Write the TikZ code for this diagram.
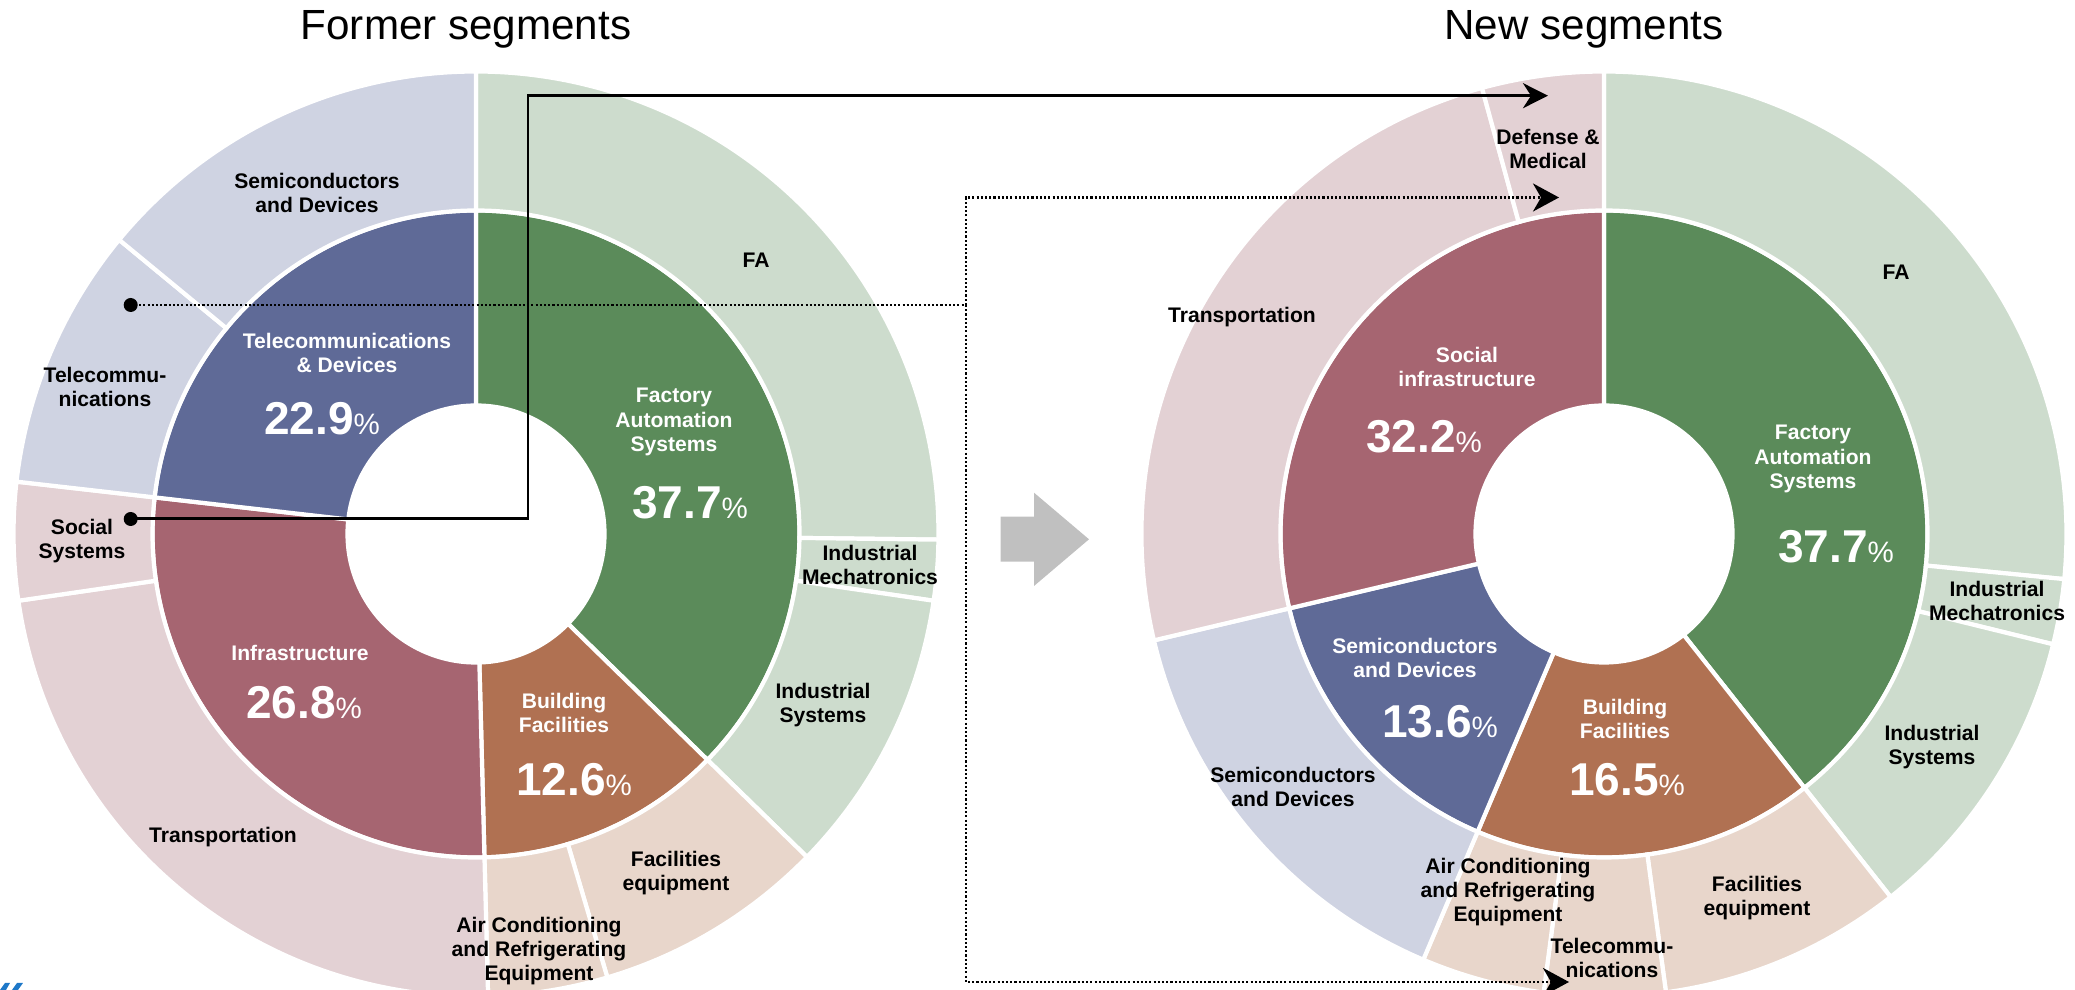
\documentclass[tikz,border=0pt]{standalone}
\usepackage{fontspec}
\setmainfont{Liberation Sans}
\usetikzlibrary{arrows.meta}

\definecolor{fasgreen}{HTML}{5B8B5A}
\definecolor{falight}{HTML}{CDDCCD}
\definecolor{telblue}{HTML}{5F6A97}
\definecolor{tellight}{HTML}{CFD3E2}
\definecolor{infred}{HTML}{A66571}
\definecolor{inflight}{HTML}{E3D1D4}
\definecolor{bldbrown}{HTML}{B07152}
\definecolor{bldlight}{HTML}{E8D6CB}
\definecolor{arrowgray}{HTML}{C0C0C0}
\definecolor{logoblue}{HTML}{1E78C8}

\tikzset{
	seg/.style={draw=white, line width=1.2pt},
	lbl/.style={align=center, inner sep=0pt, font=\bfseries\fontsize{6}{6.9}\selectfont},
	wlbl/.style={lbl, text=white},
	pct/.style={inner sep=0pt, text=white},
	ttl/.style={anchor=base, inner sep=0pt, font=\fontsize{12}{14}\selectfont},
	solidline/.style={line width=0.85pt, -{Stealth[length=0.25cm, width=0.25cm, inset=0.08cm]}},
	dotline/.style={line width=0.7pt, dash pattern=on 0.6pt off 0.6pt}
}
\newcommand{\segpct}[1]{{\bfseries\fontsize{13.1}{15}\selectfont #1}{\fontsize{8.4}{10}\selectfont\%}}

\begin{document}
\begin{tikzpicture}
	\useasboundingbox (0,0) rectangle (20.75,9.9);

	\begin{scope}[shift={(4.76,4.56)}]
	\foreach \a/\b/\c in {90/-44.3/fasgreen, -44.3/-88.5/bldbrown, -88.5/-186.5/infred, 173.5/90/telblue}
	\draw[seg, fill=\c] (\a:1.285) arc[start angle=\a, end angle=\b, radius=1.285] -- (\b:3.235) arc[start angle=\b, end angle=\a, radius=3.235] -- cycle;
	\foreach \a/\b/\c in {90/-0.7/falight, -0.7/-8.3/falight, -8.3/-44.3/falight, -44.3/-73.5/bldlight, -73.5/-88.5/bldlight, -88.5/-171.7/inflight, -171.7/-186.5/inflight, 173.5/140.5/tellight, 140.5/90/tellight}
	\draw[seg, fill=\c] (\a:3.235) arc[start angle=\a, end angle=\b, radius=3.235] -- (\b:4.625) arc[start angle=\b, end angle=\a, radius=4.625] -- cycle;
	\end{scope}

	\begin{scope}[shift={(16.04,4.56)}]
	\foreach \a/\b/\c in {90/-51.7/fasgreen, -51.7/-113/bldbrown, -113/-166.7/telblue, 193.3/90/infred}
	\draw[seg, fill=\c] (\a:1.285) arc[start angle=\a, end angle=\b, radius=1.285] -- (\b:3.235) arc[start angle=\b, end angle=\a, radius=3.235] -- cycle;
	\foreach \a/\b/\c in {90/-5.6/falight, -5.6/-13.8/falight, -13.8/-51.7/falight, -51.7/-82.3/bldlight, -82.3/-97.5/bldlight, -97.5/-113/bldlight, -113/-166.7/tellight, 193.3/105.3/inflight, 105.3/90/inflight}
	\draw[seg, fill=\c] (\a:3.235) arc[start angle=\a, end angle=\b, radius=3.235] -- (\b:4.625) arc[start angle=\b, end angle=\a, radius=4.625] -- cycle;
	\end{scope}

	\node[ttl] (ftitle) at (4.66,9.50) {Former segments};
	\node[ttl] (ntitle) at (15.84,9.50) {New segments};

	\node[lbl] (lsemi) at (3.17,7.97) {Semiconductors\\and Devices};
	\node[lbl] (lfa) at (7.56,7.30) {FA};
	\node[lbl] (ltele) at (1.05,6.03) {Telecommu-\\nications};
	\node[wlbl] (ltd) at (3.47,6.37) {Telecommunications\\\& Devices};
	\node[pct] (ltdp) at (3.22,5.71) {\segpct{22.9}};
	\node[wlbl] (lfas) at (6.74,5.68) {Factory\\Automation\\Systems};
	\node[pct] (lfasp) at (6.90,4.87) {\segpct{37.7}};
	\node[lbl] (lsoc) at (0.82,4.49) {Social\\Systems};
	\node[lbl] (lim) at (8.70,4.25) {Industrial\\Mechatronics};
	\node[wlbl] (linf) at (3.00,3.37) {Infrastructure};
	\node[pct] (linfp) at (3.04,2.87) {\segpct{26.8}};
	\node[wlbl] (lbld) at (5.64,2.77) {Building\\Facilities};
	\node[pct] (lbldp) at (5.74,2.10) {\segpct{12.6}};
	\node[lbl] (lis) at (8.23,2.85) {Industrial\\Systems};
	\node[lbl] (lfe) at (6.76,1.17) {Facilities\\equipment};
	\node[lbl] (ltr) at (2.23,1.53) {Transportation};
	\node[lbl] (lac) at (5.39,0.39) {Air Conditioning\\and Refrigerating\\Equipment};

	\node[lbl] (rdm) at (15.48,8.41) {Defense \&\\Medical};
	\node[lbl] (rfa) at (18.96,7.18) {FA};
	\node[lbl] (rtr) at (12.42,6.73) {Transportation};
	\node[wlbl] (rsi) at (14.67,6.23) {Social\\infrastructure};
	\node[pct] (rsip) at (14.24,5.53) {\segpct{32.2}};
	\node[wlbl] (rfas) at (18.13,5.31) {Factory\\Automation\\Systems};
	\node[pct] (rfasp) at (18.36,4.43) {\segpct{37.7}};
	\node[lbl] (rim) at (19.97,3.89) {Industrial\\Mechatronics};
	\node[wlbl] (rsd) at (14.15,3.32) {Semiconductors\\and Devices};
	\node[pct] (rsdp) at (14.40,2.68) {\segpct{13.6}};
	\node[wlbl] (rbld) at (16.25,2.71) {Building\\Facilities};
	\node[pct] (rbldp) at (16.27,2.10) {\segpct{16.5}};
	\node[lbl] (ris) at (19.32,2.43) {Industrial\\Systems};
	\node[lbl] (rsdo) at (12.93,2.03) {Semiconductors\\and Devices};
	\node[lbl] (rfe) at (17.57,0.92) {Facilities\\equipment};
	\node[lbl] (rac) at (15.08,0.98) {Air Conditioning\\and Refrigerating\\Equipment};
	\node[lbl] (rtel) at (16.12,0.32) {Telecommu-\\nications};

	\fill[arrowgray] (10.007,4.733) -- (10.34,4.733) -- (10.34,4.973) -- (10.89,4.507) -- (10.34,4.04) -- (10.34,4.283) -- (10.007,4.283) -- cycle;

	\coordinate (sdot) at (1.307,4.71);
	\coordinate (sturn) at (5.28,8.943);
	\coordinate (stip) at (15.48,8.943);
	\fill (sdot) circle (0.07);
	\draw[solidline] (sdot) -| (sturn) -- (stip);

	\coordinate (ddot) at (1.307,6.85);
	\coordinate (dsplit) at (9.66,6.85);
	\coordinate (dtop) at (15.59,7.925);
	\coordinate (dbot) at (15.69,0.08);
	\fill (ddot) circle (0.07);
	\draw[dotline] (ddot) -- (dsplit);
	\draw[dotline, -{Stealth[length=0.26cm, width=0.28cm, inset=0.08cm]}] (dsplit) |- (dtop);
	\draw[dotline, -{Stealth[length=0.26cm, width=0.28cm, inset=0.08cm]}] (dsplit) |- (dbot);

	\fill[logoblue] (0,0) -- (0.05,0.07) -- (0.1,0.07) -- (0.06,0) -- cycle;
	\fill[logoblue] (0.12,0) -- (0.17,0.07) -- (0.23,0.07) -- (0.18,0) -- cycle;
\end{tikzpicture}
\end{document}
